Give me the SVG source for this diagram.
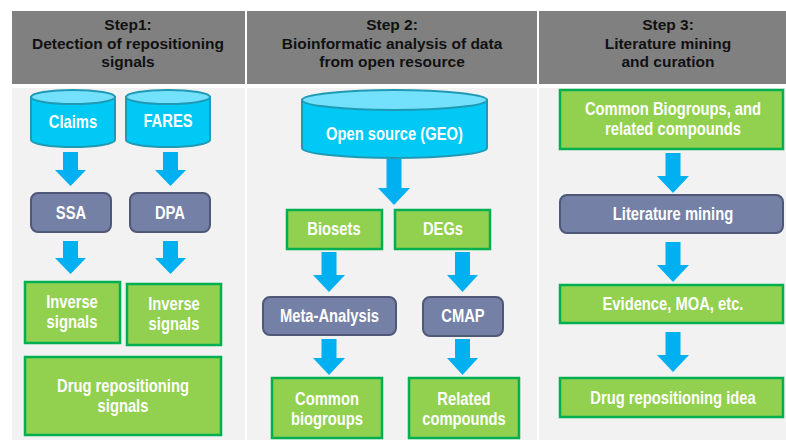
<svg xmlns="http://www.w3.org/2000/svg" width="786" height="440" viewBox="0 0 786 440">
<style>
.hdr{fill:#808080}
.body{fill:#f2f2f2}
.ht{font-family:"Liberation Sans",Arial,sans-serif;font-weight:bold;font-size:15.5px;fill:#111;text-anchor:middle}
.t{font-family:"Liberation Sans",Arial,sans-serif;font-weight:bold;font-size:18px;fill:#fff;text-anchor:middle}
.cylb{fill:#00c9f5;stroke:#1f9ab5;stroke-width:2}
.cylt{fill:#73e1fc;stroke:#1f9ab5;stroke-width:2}
.grn{fill:#92d050;stroke:#00b050;stroke-width:2.5}
.sl{fill:#7480a6;stroke:#4f5877;stroke-width:2}
.ar{fill:#00b0f0}
</style>
<rect width="786" height="440" fill="#fff"/>
<g id="headers">
<rect class="hdr" x="12" y="11" width="233" height="73"/>
<rect class="hdr" x="247" y="11" width="290" height="73"/>
<rect class="hdr" x="539" y="11" width="247" height="73"/>
<text class="ht" x="128" y="30">Step1:</text>
<text class="ht" x="128" y="48.5">Detection of repositioning</text>
<text class="ht" x="128" y="66.5">signals</text>
<text class="ht" x="392" y="30">Step 2:</text>
<text class="ht" x="392" y="48.5">Bioinformatic analysis of data</text>
<text class="ht" x="392" y="66.5">from open resource</text>
<text class="ht" x="668" y="30">Step 3:</text>
<text class="ht" x="668" y="48.5">Literature mining</text>
<text class="ht" x="668" y="66.5">and curation</text>
</g>
<g id="bodies">
<rect class="body" x="12" y="88" width="233" height="352"/>
<rect class="body" x="247" y="88" width="290" height="352"/>
<rect class="body" x="539" y="88" width="247" height="352"/>
</g>
<g id="connectors">
<polygon class="ar" points="63,152 78,152 78,170 86,170 70.5,186 55,170 63,170"/>
<polygon class="ar" points="163,152 178,152 178,170 186,170 170.5,186 155,170 163,170"/>
<polygon class="ar" points="63,241 78,241 78,258 86,258 70.5,274 55,258 63,258"/>
<polygon class="ar" points="163,241 178,241 178,258 186,258 170.5,274 155,258 163,258"/>
<polygon class="ar" points="386.5,159 401.5,159 401.5,188 410,188 394,205 378,188 386.5,188"/>
<polygon class="ar" points="321.5,252 336.5,252 336.5,275 345,275 329,292 313,275 321.5,275"/>
<polygon class="ar" points="455,252 470,252 470,275 478,275 462.5,292 447,275 455,275"/>
<polygon class="ar" points="321.5,339 336.5,339 336.5,358 345,358 329,375 313,358 321.5,358"/>
<polygon class="ar" points="455,339 470,339 470,358 478,358 462.5,375 447,358 455,358"/>
<polygon class="ar" points="665.5,153 680.5,153 680.5,176 689,176 673,193 657,176 665.5,176"/>
<polygon class="ar" points="665.5,242 680.5,242 680.5,265 689,265 673,282 657,265 665.5,265"/>
<polygon class="ar" points="665.5,332 680.5,332 680.5,355 689,355 673,372 657,355 665.5,355"/>
</g>
<g id="claims">
<path class="cylb" d="M31,97 L31,140 A42,7 0 0 0 115,140 L115,97 Z"/>
<ellipse class="cylt" cx="73" cy="97" rx="42" ry="7"/>
<g transform="scale(0.82 1)"><text class="t" x="89.02" y="128">Claims</text></g>
</g>
<g id="fares">
<path class="cylb" d="M126,97 L126,140 A42,7 0 0 0 210,140 L210,97 Z"/>
<ellipse class="cylt" cx="168" cy="97" rx="42" ry="7"/>
<g transform="scale(0.82 1)"><text class="t" x="204.88" y="127">FARES</text></g>
</g>
<g id="ssa">
<rect class="sl" x="31" y="193" width="80" height="39" rx="7"/>
<g transform="scale(0.82 1)"><text class="t" x="86.59" y="219">SSA</text></g>
</g>
<g id="dpa">
<rect class="sl" x="130" y="193" width="80" height="39" rx="7"/>
<g transform="scale(0.82 1)"><text class="t" x="207.32" y="219">DPA</text></g>
</g>
<g id="inverse1">
<rect class="grn" x="25" y="282" width="95" height="61"/>
<g transform="scale(0.82 1)"><text class="t" x="87.8" y="308">Inverse</text>
<text class="t" x="87.8" y="328.5">signals</text></g>
</g>
<g id="inverse2">
<rect class="grn" x="127" y="284" width="94" height="61"/>
<g transform="scale(0.82 1)"><text class="t" x="212.2" y="310">Inverse</text>
<text class="t" x="212.2" y="330.5">signals</text></g>
</g>
<g id="drugsignals">
<rect class="grn" x="25" y="357" width="196" height="78"/>
<g transform="scale(0.82 1)"><text class="t" x="150" y="392">Drug repositioning</text>
<text class="t" x="150" y="412">signals</text></g>
</g>
<g id="geo">
<path class="cylb" d="M302,100 L302,148 A92.5,10 0 0 0 487,148 L487,100 Z"/>
<ellipse class="cylt" cx="394.5" cy="100" rx="92.5" ry="10"/>
<g transform="scale(0.82 1)"><text class="t" x="481.1" y="140">Open source (GEO)</text></g>
</g>
<g id="biosets">
<rect class="grn" x="287" y="210" width="95" height="39"/>
<g transform="scale(0.82 1)"><text class="t" x="407.32" y="235">Biosets</text></g>
</g>
<g id="degs">
<rect class="grn" x="395" y="210" width="95" height="39"/>
<g transform="scale(0.82 1)"><text class="t" x="540.24" y="235">DEGs</text></g>
</g>
<g id="meta">
<rect class="sl" x="263" y="297" width="133" height="38" rx="7"/>
<g transform="scale(0.82 1)"><text class="t" x="401.83" y="322.5">Meta-Analysis</text></g>
</g>
<g id="cmap">
<rect class="sl" x="423" y="297" width="80" height="39" rx="7"/>
<g transform="scale(0.82 1)"><text class="t" x="564.63" y="322.5">CMAP</text></g>
</g>
<g id="commonbio">
<rect class="grn" x="272" y="378" width="110" height="60"/>
<g transform="scale(0.82 1)"><text class="t" x="398.78" y="405">Common</text>
<text class="t" x="398.78" y="425">biogroups</text></g>
</g>
<g id="related">
<rect class="grn" x="409" y="378" width="110" height="60"/>
<g transform="scale(0.82 1)"><text class="t" x="565.85" y="405">Related</text>
<text class="t" x="565.85" y="425">compounds</text></g>
</g>
<g id="commonbiogroups">
<rect class="grn" x="560" y="90" width="223" height="59"/>
<g transform="scale(0.82 1)"><text class="t" x="820.73" y="115">Common Biogroups, and</text>
<text class="t" x="820.73" y="135.5">related compounds</text></g>
</g>
<g id="litmining">
<rect class="sl" x="560" y="195" width="223" height="38" rx="7"/>
<g transform="scale(0.82 1)"><text class="t" x="820.73" y="220.5">Literature mining</text></g>
</g>
<g id="evidence">
<rect class="grn" x="560" y="285" width="223" height="38"/>
<g transform="scale(0.82 1)"><text class="t" x="820.73" y="310.5">Evidence, MOA, etc.</text></g>
</g>
<g id="idea">
<rect class="grn" x="560" y="378" width="223" height="39"/>
<g transform="scale(0.82 1)"><text class="t" x="820.73" y="404">Drug repositioning idea</text></g>
</g>
</svg>
